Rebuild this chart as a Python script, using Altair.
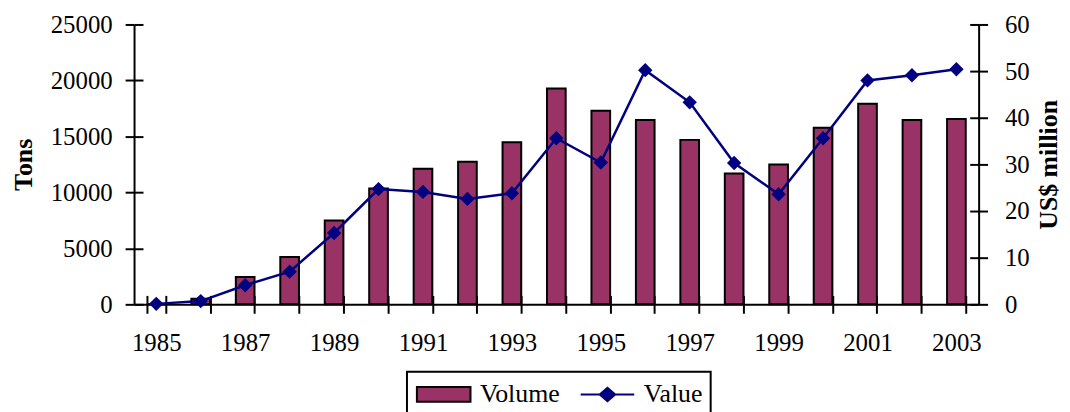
import altair as alt
import pandas as pd

# ---- data ----
years = list(range(1985, 2004))
volume_tons = [0, 500, 2450, 4230, 7480, 10340, 12120, 12740, 14480, 19270,
               17290, 16460, 14690, 11680, 12500, 15780, 17910, 16460, 16550]
value_musd = [0.1, 0.7, 4.1, 7.0, 15.3, 24.7, 24.1, 22.6, 23.8, 35.6,
              30.4, 50.2, 43.3, 30.3, 23.6, 35.6, 48.0, 49.1, 50.4]
series_names = ["Volume", "Value"]
tons_ticks = [0, 5000, 10000, 15000, 20000, 25000]
musd_ticks = [0, 10, 20, 30, 40, 50, 60]

# ---- styles ----
FONT = "Liberation Serif"
BAR_COLOR = "#993366"
LINE_COLOR = "#000080"
series_fill = [BAR_COLOR, LINE_COLOR]
series_stroke = ["#000000", LINE_COLOR]
legend_shapes = ["M-2,-0.55H2V0.55H-2Z",
                 "M-2,0H2M0,-0.5L0.58,0L0,0.5L-0.58,0Z"]
PLOT_W, PLOT_H, TICK = 851, 282, 9

df = pd.DataFrame({"year": years, "volume": volume_tons, "value": value_musd})
legend_df = pd.DataFrame({"series": series_names})

axis_common = dict(
    domainColor="black", domainWidth=2, tickColor="black", tickWidth=2,
    tickSize=TICK, labelFont=FONT, labelFontSize=25, labelColor="black",
    titleFont=FONT, titleFontSize=26, titleFontWeight="bold",
    titleColor="black", grid=True, gridColor="black", gridWidth=2,
    gridOpacity=1,
)

x_enc = alt.X(
    "year:O", title=None,
    scale=alt.Scale(paddingInner=0.58, paddingOuter=0.29),
    axis=alt.Axis(labelExpr="datum.value % 2 == 1 ? datum.label : ''",
                  labelAngle=0, tickBand="extent", labelPadding=18,
                  labelOverlap=False, gridDash=[TICK, PLOT_H - TICK],
                  gridDashOffset=TICK, **axis_common),
)

bars = alt.Chart(df).mark_bar(color=BAR_COLOR, stroke="black", strokeWidth=2).encode(
    x=x_enc,
    y=alt.Y("volume:Q",
            scale=alt.Scale(domain=[0, 25000], nice=False),
            axis=alt.Axis(title="Tons", orient="left", values=tons_ticks, format="d",
                          labelPadding=13, titleAngle=270, titleX=-103, titleY=141,
                          titleBaseline="alphabetic", titleAlign="center",
                          gridDash=[TICK, 3000], **axis_common)),
)

line = alt.Chart(df).mark_line(color=LINE_COLOR, strokeWidth=2.5).encode(
    x=x_enc,
    y=alt.Y("value:Q",
            scale=alt.Scale(domain=[0, 60], nice=False),
            axis=alt.Axis(title="US$ million", orient="right", values=musd_ticks,
                          format="d", labelPadding=17, titleAngle=270, titleX=78,
                          titleY=141, titleBaseline="alphabetic", titleAlign="center",
                          gridDash=[TICK, 3000], **axis_common)),
)

points = alt.Chart(df).mark_point(shape="diamond", filled=True, size=210,
                                  color=LINE_COLOR, opacity=1).encode(
    x=x_enc,
    y=alt.Y("value:Q", scale=alt.Scale(domain=[0, 60], nice=False), axis=None),
)

legend_layer = alt.Chart(legend_df).transform_filter("false").mark_point(
    filled=True, opacity=1, strokeWidth=2).encode(
    color=alt.Color("series:N",
                    scale=alt.Scale(domain=series_names, range=series_fill),
                    legend=alt.Legend(title=None, orient="none", legendX=275, legendY=350,
                                      direction="horizontal", symbolSize=729,
                                      symbolStrokeWidth=2, symbolOffset=14.5,
                                      labelOffset=22, columnPadding=17, padding=8,
                                      labelFont=FONT, labelFontSize=26,
                                      labelColor="black", strokeColor="black",
                                      fillColor="white")),
    shape=alt.Shape("series:N",
                    scale=alt.Scale(domain=series_names, range=legend_shapes)),
    stroke=alt.Stroke("series:N",
                      scale=alt.Scale(domain=series_names, range=series_stroke)),
)

chart = alt.layer(bars, line, points, legend_layer).resolve_scale(
    y="independent"
).properties(
    width=PLOT_W, height=PLOT_H,
    padding={"left": 127, "top": 15, "right": 84, "bottom": 120},
    autosize=alt.AutoSizeParams(type="none"),
    background="white",
).configure_view(stroke=None).configure_legend(strokeWidth=2)

chart.save("out.html", embed_options={"renderer": "svg", "actions": False})
